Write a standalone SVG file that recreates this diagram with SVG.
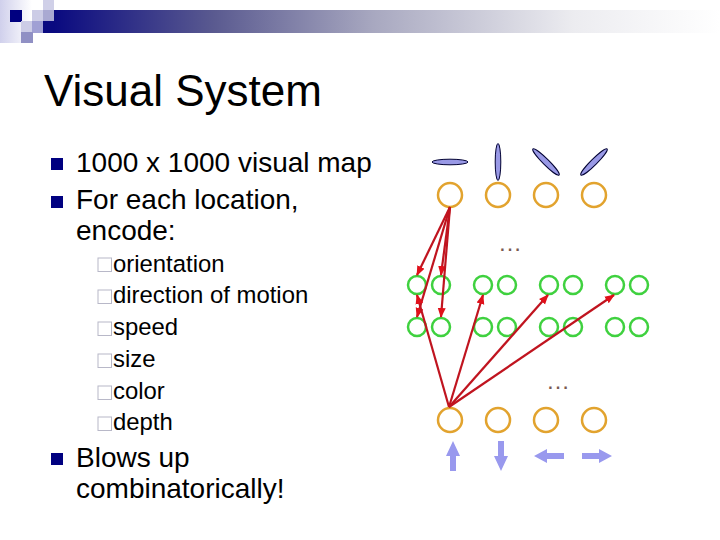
<svg xmlns="http://www.w3.org/2000/svg" width="720" height="540" viewBox="0 0 720 540">
<style>
text{font-family:"Liberation Sans",Arial,sans-serif;fill:#000}
.t1{font-size:28px}.t2{font-size:23.9px}
.o{fill:none;stroke:#e2a32e;stroke-width:2.5}
.g{fill:none;stroke:#3fd13f;stroke-width:2.5}
.e{fill:#9999e6;stroke:#000033;stroke-width:1}
.a{fill:#9999ee}
.c{stroke:#c0141f;stroke-width:2.2;fill:none;marker-end:url(#h)}
.d{font-size:24px;fill:#7a5a50}
.b{fill:#000080}
.s{fill:none;stroke:#b8b8c8;stroke-width:1}
</style>
<defs>
<linearGradient id="band"><stop offset="0" stop-color="#0a0a80"/><stop offset=".24" stop-color="#5a5a90"/><stop offset=".48" stop-color="#a8a8c0"/><stop offset=".78" stop-color="#ececf0"/><stop offset="1" stop-color="#ffffff"/></linearGradient>
<linearGradient id="side"><stop offset="0" stop-color="#d0d0ec"/><stop offset="1" stop-color="#ffffff"/></linearGradient>
<marker id="h" markerUnits="userSpaceOnUse" markerWidth="10" markerHeight="10" refX="9" refY="5" orient="auto"><path d="M0 1L10 5L0 9Z" fill="#e0101a"/></marker>
</defs>
<g id="banner">
<rect x="0" y="0" width="32" height="43" fill="url(#side)"/>
<rect x="43" y="21" width="11" height="12" fill="#0a0a80"/>
<rect x="54" y="10" width="666" height="23" fill="url(#band)"/>
<rect x="10" y="10" width="12" height="12" fill="#000080"/>
<rect x="32" y="10" width="11" height="11" fill="#ccccE6"/>
<rect x="43" y="0" width="11" height="10" fill="#d0d0e8"/>
<rect x="43" y="10" width="11" height="11" fill="#a9a9d2"/>
<rect x="21" y="21" width="11" height="11" fill="#ccccE6"/>
<rect x="32" y="21" width="11" height="12" fill="#a0a0d4"/>
<rect x="21" y="32" width="12" height="11" fill="#9090c4"/>
</g>
<text x="44" y="106" font-size="44">Visual System</text>
<g id="bullets">
<rect class="b" x="51" y="158" width="12" height="12"/>
<rect class="b" x="51" y="196" width="12" height="12"/>
<rect class="b" x="51" y="453" width="12" height="12"/>
<text class="t1" x="76" y="172">1000 x 1000 visual map</text>
<text class="t1" x="76" y="209">For each location,</text>
<text class="t1" x="76" y="240">encode:</text>
<text class="t1" x="76" y="467">Blows up</text>
<text class="t1" x="76" y="498">combinatorically!</text>
</g>
<g id="subbullets">
<rect class="s" x="98" y="258" width="13.5" height="13.5"/>
<rect class="s" x="98" y="290" width="13.5" height="13.5"/>
<rect class="s" x="98" y="322" width="13.5" height="13.5"/>
<rect class="s" x="98" y="354" width="13.5" height="13.5"/>
<rect class="s" x="98" y="386" width="13.5" height="13.5"/>
<rect class="s" x="98" y="417" width="13.5" height="13.5"/>
<text class="t2" x="113" y="272">orientation</text>
<text class="t2" x="113" y="303">direction of motion</text>
<text class="t2" x="113" y="335">speed</text>
<text class="t2" x="113" y="367">size</text>
<text class="t2" x="113" y="399">color</text>
<text class="t2" x="113" y="430">depth</text>
</g>
<g id="orientations">
<ellipse class="e" cx="450" cy="162" rx="18" ry="2.8"/>
<ellipse class="e" cx="498" cy="162" rx="2.8" ry="18.5"/>
<ellipse class="e" cx="546" cy="162" rx="18.5" ry="3" transform="rotate(45 546 162)"/>
<ellipse class="e" cx="594" cy="162" rx="18.5" ry="3" transform="rotate(-45 594 162)"/>
</g>
<g id="top-cells">
<circle class="o" cx="450" cy="195" r="12"/><circle class="o" cx="498" cy="195" r="12"/><circle class="o" cx="546" cy="195" r="12"/><circle class="o" cx="594" cy="195" r="12"/>
</g>
<g id="green-cells">
<circle class="g" cx="417" cy="285" r="9"/><circle class="g" cx="441" cy="285" r="9"/><circle class="g" cx="483" cy="285" r="9"/><circle class="g" cx="507" cy="285" r="9"/><circle class="g" cx="549" cy="285" r="9"/><circle class="g" cx="573" cy="285" r="9"/><circle class="g" cx="615" cy="285" r="9"/><circle class="g" cx="639" cy="285" r="9"/>
<circle class="g" cx="417" cy="327" r="9"/><circle class="g" cx="441" cy="327" r="9"/><circle class="g" cx="483" cy="327" r="9"/><circle class="g" cx="507" cy="327" r="9"/><circle class="g" cx="549" cy="327" r="9"/><circle class="g" cx="573" cy="327" r="9"/><circle class="g" cx="615" cy="327" r="9"/><circle class="g" cx="639" cy="327" r="9"/>
</g>
<g id="bottom-cells">
<circle class="o" cx="450" cy="420" r="12"/><circle class="o" cx="498" cy="420" r="12"/><circle class="o" cx="546" cy="420" r="12"/><circle class="o" cx="594" cy="420" r="12"/>
</g>
<g id="motions">
<path class="a" d="M453 441L460 456H456V471H450V456H446Z"/>
<path class="a" d="M501 471L494 456H498V441H504V456H508Z"/>
<path class="a" d="M534 456L547 449V453H564V459H547V463Z"/>
<path class="a" d="M612 456L599 449V453H582V459H599V463Z"/>
</g>
<g id="connectors">
<path class="c" d="M450 207L417 275"/>
<path class="c" d="M450 207L417 317"/>
<path class="c" d="M450 207L441 275"/>
<path class="c" d="M450 207L441 317"/>
<path class="c" d="M449 407L417 295"/>
<path class="c" d="M449 407L483 295"/>
<path class="c" d="M449 407L548 295"/>
<path class="c" d="M449 407L614 295"/>
</g>
<text class="d" x="498" y="251">…</text>
<text class="d" x="546" y="389">…</text>
</svg>
